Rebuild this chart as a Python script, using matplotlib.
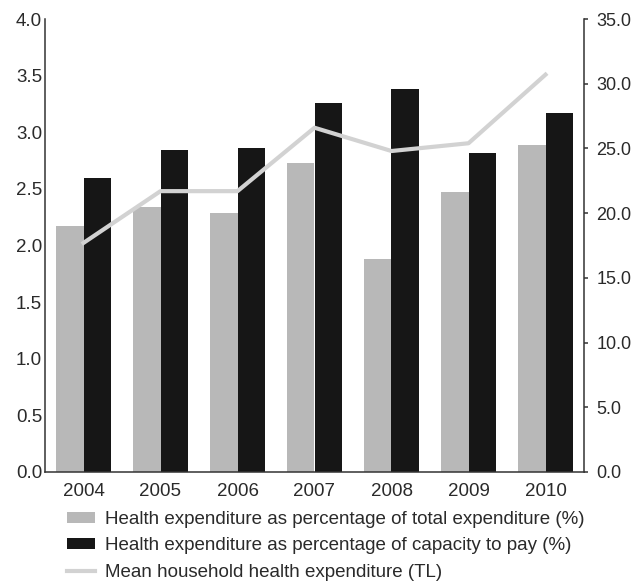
import matplotlib
matplotlib.use("Agg")
import matplotlib.pyplot as plt
import numpy as np
from matplotlib.patches import Patch
from matplotlib.lines import Line2D

years = ["2004", "2005", "2006", "2007", "2008", "2009", "2010"]
pct_total = [2.17, 2.34, 2.29, 2.73, 1.88, 2.47, 2.89]
pct_capacity = [2.60, 2.84, 2.86, 3.26, 3.38, 2.82, 3.17]
mean_exp = [17.7, 21.7, 21.7, 26.6, 24.8, 25.4, 30.7]

left_ticks = [0.0, 0.5, 1.0, 1.5, 2.0, 2.5, 3.0, 3.5, 4.0]
right_ticks = [0.0, 5.0, 10.0, 15.0, 20.0, 25.0, 30.0, 35.0]

plt.rcParams['font.family'] = ['Liberation Sans', 'DejaVu Sans']

fig = plt.figure(figsize=(6.33, 5.87), dpi=100)
ax = fig.add_axes([45/633, 1 - 472/587, (584-45)/633, (472-19)/587])
ax2 = ax.twinx()

x = np.arange(len(years))
w = 0.36
grey = "#b8b8b8"
black = "#161616"
linec = "#d2d2d2"
txtc = "#2a2a2a"

ax.bar(x - w/2, pct_total, width=w, color=grey, zorder=2)
ax.bar(x + w/2, pct_capacity, width=w, color=black, zorder=2)
ax.set_ylim(0, 4.0)
ax.set_xlim(-0.5, 6.5)
ax.set_yticks(left_ticks)
ax.set_yticklabels([f"{v:.1f}" for v in left_ticks])
ax.set_xticks(x)
ax.set_xticklabels(years)

ax2.plot(x, mean_exp, color=linec, lw=3, zorder=5)
ax2.set_ylim(0, 35.0)
ax2.set_yticks(right_ticks)
ax2.set_yticklabels([f"{v:.1f}" for v in right_ticks])

ax.set_zorder(ax2.get_zorder() - 1)
ax.patch.set_visible(False)
ax2.patch.set_visible(False)

for a in (ax, ax2):
    a.spines['top'].set_visible(False)
    for s in ('left', 'right', 'bottom'):
        a.spines[s].set_color("#333333")
        a.spines[s].set_linewidth(1.1)

ax.spines['right'].set_visible(False)
ax2.spines['left'].set_visible(False)
ax2.spines['bottom'].set_visible(False)

ax.tick_params(axis='y', length=0, pad=2, labelsize=13.5, labelcolor=txtc)
ax.tick_params(axis='x', length=0, pad=8, labelsize=13.5, labelcolor=txtc)
ax2.tick_params(axis='y', length=3, width=1.1, color="#333333", pad=6, labelsize=13, labelcolor=txtc)

handles = [
    Patch(facecolor=grey, edgecolor='none'),
    Patch(facecolor=black, edgecolor='none'),
    Line2D([0], [0], color=linec, lw=3),
]
labels = [
    "Health expenditure as percentage of total expenditure (%)",
    "Health expenditure as percentage of capacity to pay (%)",
    "Mean household health expenditure (TL)",
]
leg = fig.legend(handles, labels, loc='upper left', bbox_to_anchor=(67/633, 1 - 511/587),
                 frameon=False, fontsize=13.5, handlelength=1.5, handleheight=0.5,
                 labelspacing=0.5, handletextpad=0.55, borderpad=0, borderaxespad=0)
for t in leg.get_texts():
    t.set_color(txtc)

fig.savefig("out.png", dpi=100)
